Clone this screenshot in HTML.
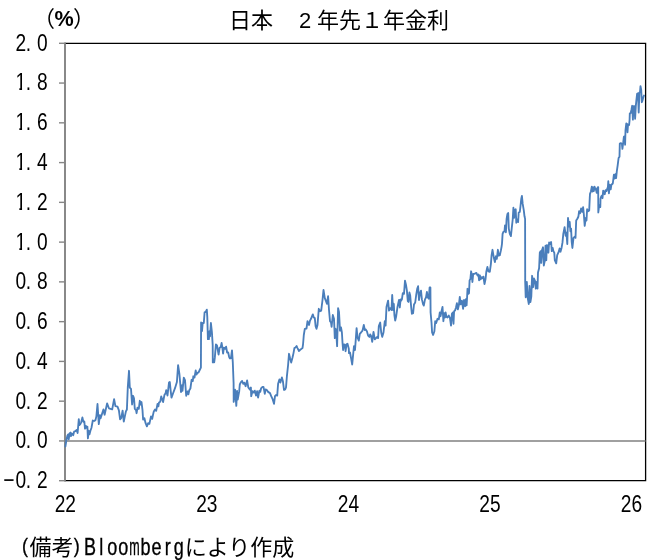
<!DOCTYPE html>
<html lang="ja">
<head>
<meta charset="utf-8">
<title>日本 2年先1年金利</title>
<style>
html,body{margin:0;padding:0;background:#fff;}
body{position:relative;width:651px;height:560px;overflow:hidden;font-family:"Liberation Sans",sans-serif;}
svg{display:block;position:absolute;left:0;top:0;will-change:transform;}
.num text{font-family:"Liberation Sans",sans-serif;font-size:20.6px;fill:#000;text-anchor:middle;}
.ax line{stroke:#868686;stroke-width:1.4;}
.ax .z{stroke:#808080;stroke-width:1.5;}
.ax .v{stroke:#7c7c7c;stroke-width:1.8;}
.fr{fill:none;stroke:#000;stroke-width:1.3;}
.ser{fill:none;stroke:#4a7ebb;stroke-width:1.85;stroke-linejoin:round;stroke-linecap:round;}
.jp{fill:#000;font-family:"Liberation Sans","Noto Sans CJK JP",sans-serif;}
</style>
</head>
<body>
<svg width="651" height="560" viewBox="0 0 651 560">
<rect width="651" height="560" fill="#fff"/>
<polyline class="fr" points="65.0,43.3 645.6,43.3 645.6,480.7 65.0,480.7"/>
<g class="ax">
<line class="z" x1="65.0" x2="645.6" y1="440.94" y2="440.94"/>
<line class="v" x1="65.0" x2="65.0" y1="42.6" y2="481.4"/>
<line x1="59" x2="65.0" y1="43.30" y2="43.30"/><line x1="59" x2="65.0" y1="83.06" y2="83.06"/><line x1="59" x2="65.0" y1="122.83" y2="122.83"/><line x1="59" x2="65.0" y1="162.59" y2="162.59"/><line x1="59" x2="65.0" y1="202.35" y2="202.35"/><line x1="59" x2="65.0" y1="242.12" y2="242.12"/><line x1="59" x2="65.0" y1="281.88" y2="281.88"/><line x1="59" x2="65.0" y1="321.65" y2="321.65"/><line x1="59" x2="65.0" y1="361.41" y2="361.41"/><line x1="59" x2="65.0" y1="401.17" y2="401.17"/><line x1="59" x2="65.0" y1="440.94" y2="440.94"/><line x1="59" x2="65.0" y1="480.70" y2="480.70"/>
</g>
<path class="ser" d="M65.4 446.5 L66.5 439.5 L67.4 435.7 L68.1 434.4 L68.7 439.3 L69.6 433.5 L70.5 432.6 L70.9 436.2 L71.8 433.5 L73.2 435.3 L74.1 431.7 L75.4 431.2 L76.7 429.9 L77.6 433 L78.8 419.2 L79.4 425 L80.3 424.1 L81.2 422.3 L82.4 417.4 L83.4 421.9 L84.3 421.4 L85 428.6 L85.9 425.9 L86.6 427.7 L87.4 426.8 L87.9 438.4 L88.8 430.8 L89.5 434.4 L90.4 430.8 L91.5 427.7 L92.8 420.5 L94.1 421 L95.5 420.1 L96.4 416.1 L97.5 404 L98.8 424.1 L99.9 415.2 L100.6 418.3 L103.5 409.4 L104.6 414.7 L107.1 403.4 L108.9 408.3 L112.2 409.4 L114.1 399.1 L115.4 406.1 L117.5 406.7 L118.9 410.3 L120.1 419.3 L121.2 418.2 L122.6 410.6 L123.8 421.6 L124.9 416.1 L125.9 411.4 L126.9 409.5 L127.8 387 L129 370.8 L129.8 387.6 L131 388.9 L132.1 404.5 L133.1 395.8 L134 398.2 L134.8 408.9 L136 410.1 L136.6 413.2 L137.5 407.6 L138.8 408.9 L139.8 400.8 L140.6 404.5 L141.5 402 L142.5 410.1 L143.1 419.5 L144.4 418.2 L145.6 423.2 L146.9 426.4 L148.1 423.2 L149.4 423.9 L151 416.4 L152.2 418.9 L152.8 415.8 L153.8 411.4 L155 409.5 L156.2 410.8 L157.5 403.9 L158.4 406.4 L159 402.6 L160.2 401.8 L161.2 396.4 L163.1 402 L164.4 395.1 L165.6 393.2 L166.2 390.1 L167.5 395.5 L169 382.6 L169.8 382 L170.6 390.1 L171.5 397.6 L173.1 393.2 L175 388.2 L176.9 382 L178.1 365.1 L179.4 373.9 L181 392 L182.1 385.1 L182.5 390.8 L183.8 377.6 L185 380.1 L186.2 395.8 L187.5 391.4 L188.4 394.3 L189.3 390.3 L190.4 388.5 L191.6 379.8 L192.8 381 L193.3 376.3 L194.5 377.5 L195.7 370.5 L196.5 374.6 L197.4 372.9 L198.6 372.3 L199.7 370 L200.9 367.6 L201.1 322.5 L202 331.1 L202.7 323 L203.8 323 L204.6 312.3 L205.7 311.8 L206.8 309.6 L207.3 317.1 L207.9 339.1 L208.9 339.1 L209.5 331.1 L210 336.4 L210.9 323 L211.9 332.1 L212.7 345 L212.8 362.4 L214.2 362.4 L214.8 357.9 L215.9 344.5 L217 345.5 L218.6 354.6 L219.6 347.7 L220.7 347.1 L221.6 342.9 L222.3 347.1 L223.1 353.6 L223.9 347.7 L225 348.8 L226.1 346.6 L227.1 352.5 L228.2 352.5 L229.1 356.8 L229.8 358.4 L230.9 358.4 L232 350.4 L232.8 362.4 L233.6 383.3 L233.7 401.9 L235.1 389.7 L236.3 405.9 L237.1 390.9 L237.7 399.6 L239.2 391.4 L239.8 384.5 L240.9 382.1 L242.1 381 L243.3 383.9 L244.4 382.7 L245.6 386.2 L247.1 380.4 L248.3 387.4 L250 389.7 L250.9 387.5 L251.2 396.2 L252.5 391.2 L253.8 392.5 L254.8 390.6 L256 395.6 L257.1 391.2 L258.1 397.5 L259.4 390.6 L260.2 391.9 L261.2 388.1 L262.5 386.9 L263.5 386.9 L264.8 393.8 L265.6 389.4 L266.9 390 L268.1 391.9 L270 393.1 L271.2 396.2 L272.5 398.8 L274 403.8 L275 396.2 L276 395 L277.2 395.6 L278.1 383.8 L279.4 379.4 L280.4 382.5 L281.9 377.5 L282.9 381.2 L284 390 L285.2 389.4 L286 387.5 L286.9 376.2 L288.1 365 L289 353.8 L290.2 358.8 L291.2 362.5 L292.5 357.5 L293.5 353.1 L294.4 348.1 L295.4 347.5 L296.6 346 L297.5 348.1 L299 351 L300.6 349.4 L302.5 348.1 L303.1 343.8 L303.8 335 L304.8 328.8 L306.5 328.5 L307.5 321.2 L309 325 L310 320.6 L311 318.8 L312.8 314.4 L313.8 317.5 L314.8 318.1 L315.6 326.2 L316.5 328.8 L317.5 325 L318.8 308.8 L320 311.2 L321.2 310.6 L322.5 300 L323.5 290 L324.8 298.1 L326 301.2 L326.9 303.8 L328.1 296.2 L329 310 L330 321.2 L331 322.5 L331.6 326.9 L332.8 315 L334 318.8 L334.8 338.1 L335.6 328.8 L336.2 331.9 L337.1 346.2 L338.1 308.1 L339 311.9 L340 330.6 L341 327.5 L341.9 332.5 L342.5 342.5 L343.1 350 L344 344.4 L345 345 L345.6 351.2 L346.5 344.4 L347.5 343.8 L348.8 348.8 L349 353.1 L350 352.5 L351.2 358.8 L352.2 364.5 L353.1 355 L354 346.2 L355 350 L356 336.2 L356.6 328.1 L357.5 337.5 L358.8 340.6 L359.8 333.8 L361 332.5 L362.5 330.6 L363.8 325 L364.8 330 L365.6 329.4 L366.9 331.2 L368.1 335.6 L369.4 336.9 L370.2 334.4 L371.2 336.2 L372.2 341.9 L373.5 331.9 L374.8 339.4 L376 338.1 L377.2 336.9 L378.1 338.1 L378.8 326.2 L380.2 322.5 L381.2 332.5 L382.2 336.9 L383.5 332.5 L384.8 321.2 L385.6 325.6 L386.5 306.9 L388.1 300.6 L389 310.6 L390.2 308.1 L391.5 310 L392.2 295 L393.1 310 L393.8 303.8 L394.4 315 L395.2 320.6 L396.2 316.2 L397.5 306.9 L399 300 L399.8 307.5 L400.6 299.4 L401.2 300.6 L401.9 299.4 L402.8 293.1 L404 293.8 L405 280.6 L406 285 L406.9 290.6 L407.8 301.2 L408.5 301.9 L409.4 292.5 L410.2 295.6 L411.2 307.5 L411.9 313.8 L413.1 313.1 L414 304.4 L415.2 302.5 L416.2 295 L417.2 288.8 L418.1 286.2 L419 300 L420 293.1 L421 290.6 L421.9 299.4 L423.1 304.4 L423.8 305.6 L425 299.4 L426 297.5 L426.9 291.9 L427.8 297.5 L428.8 298.8 L429.6 287.5 L430.4 287.5 L430.6 312.5 L431.5 322.5 L432.1 332.5 L433.1 335 L434.4 331.2 L435.2 321.2 L436.2 323.1 L437.5 318.8 L438.8 319.4 L439.8 312.5 L440.6 316.2 L441.5 311.2 L442.5 306.9 L443.4 321.2 L444.1 313.1 L445 317.5 L445.6 312.5 L446.5 316.9 L447.5 317.5 L448.8 315.6 L450 318.1 L451 325.6 L451.9 313.8 L452.8 312.5 L453.5 323.8 L454.1 311.2 L455 310.6 L456 307.5 L456.9 303.1 L457.8 309.4 L458.8 305.6 L459.8 296.9 L460.6 304.4 L461.9 300.6 L463.1 308.8 L464 300 L465.2 306.2 L465.9 299.1 L466.6 305.4 L467.1 297.3 L467.5 288.8 L468.4 293.8 L469 293.3 L469.6 280.4 L470.4 279 L471.1 271.3 L471.9 275.5 L472.4 282 L473.2 273.9 L474.3 273.9 L475.4 273.4 L476.4 272.9 L477.5 275.5 L478.4 274.5 L479.1 280.4 L479.9 275.5 L480.7 279.3 L481.8 277.1 L482.6 278.2 L483.4 276.6 L484.5 284.1 L485.5 279.3 L486.3 271.8 L487.4 267 L488.4 271.3 L489.8 271.8 L490.9 263.8 L491.6 255.2 L492.5 249.8 L493.4 255.2 L494.1 258.9 L494.9 262.1 L495.9 256.3 L496.8 258.9 L497.9 249.8 L498.7 255.7 L499.8 255.2 L500.9 250.4 L501.6 246.6 L502 243.6 L502.6 233.9 L503.4 231.8 L504.5 231.3 L505 225.4 L505.9 232.3 L506.6 218.9 L507.4 214.1 L508.2 213 L508.8 228.6 L509.8 233.9 L510.9 236.1 L512 225.9 L512.7 219.5 L513.4 207.7 L514.1 217.9 L514.9 209.8 L515.7 209.3 L516.3 222.7 L517.3 219.5 L518.1 222.1 L518.7 212.5 L519.8 212 L520.5 206.1 L521.3 198.6 L521.9 195.9 L522.7 203.9 L523.8 210.4 L524.5 216.3 L525.1 218.9 L525.2 281.9 L525.7 297.3 L526.8 281.9 L527.7 297.9 L528.8 304 L529.5 285.9 L530.4 302 L531.3 296.6 L532.1 275.8 L533.1 287.2 L534 278.5 L535.1 281.2 L535.8 288.6 L536.7 281.9 L537.5 288.6 L538 272.5 L539.1 268.2 L539.8 252.7 L540.6 251.1 L541.2 262.9 L542 250 L543 247.3 L543.8 265.5 L544.9 260.2 L545.5 245.7 L546.3 260.2 L546.8 245.2 L547.9 245.7 L548.4 252.7 L549.1 242.5 L550 244.1 L551.1 242 L551.8 251.1 L552.7 247.9 L553.4 251.1 L554.3 252.7 L554.8 260.2 L556.2 263.4 L557.2 255.1 L558.5 252.4 L559.6 248.4 L560.5 251.7 L561.6 247.7 L562.5 242.4 L563.3 233.9 L564.6 227.2 L565.7 235.9 L566.4 232.6 L567.3 244 L568 217.9 L569.1 226.6 L569.7 221.9 L570.4 231.2 L571.1 228.6 L571.7 242 L572.4 248 L573.5 237.9 L574.8 236.6 L575.5 237.9 L576.2 220.5 L577.5 218.5 L578.4 216.5 L579.1 211.2 L580.2 213.2 L581.1 208.5 L582.2 211.8 L583.1 207.1 L583.8 213.8 L584.7 225.9 L585.8 217.9 L586.5 220.5 L587.1 209.2 L588.2 211.2 L589.2 210.5 L589.8 197.1 L590 193.8 L590.9 191.5 L591.8 186.6 L592.5 191.5 L593.1 187.5 L593.8 191.1 L594.5 186.6 L595.2 189.3 L595.8 188.8 L596.7 192.9 L597.6 187.5 L598.2 187.1 L598.3 212.5 L599.2 205.1 L600.3 207.1 L600.5 198.7 L601.2 196.4 L602.1 195.5 L602.5 198.2 L603.2 190.6 L604.1 192 L604.7 194.2 L605.6 190.2 L606.5 191.1 L607.4 188.4 L607.9 187.1 L608.3 181.2 L608.9 193.3 L609.8 184.8 L610.7 189.3 L611.4 184.8 L612.8 183.5 L613.9 174.6 L614.6 178.6 L615.4 174.1 L616.1 178.1 L616.8 171.4 L617.7 165.2 L618.6 158 L619.5 156.7 L619.8 143.5 L620.8 143.1 L621.9 143.9 L622.4 148.8 L623.1 143.5 L623.9 136.7 L624.5 136.3 L625.1 144.7 L625.5 130.3 L626.3 123.4 L627.1 124.2 L627.5 132.3 L628 124.6 L629.1 125 L629.6 119.8 L629.8 113.4 L630.6 113.4 L631.5 109.4 L632.2 105.8 L632.9 119.6 L633.5 106.2 L634.4 106.2 L635.1 118.8 L635.8 106.2 L636.4 100 L637.1 93.8 L638 93.3 L638.7 112.5 L639.4 92.4 L640 92 L640.5 86.2 L641.2 89.7 L641.8 102.2 L642.4 100.9 L643.3 97.3 L644 95.5"/>
<g class="num" transform="scale(0.93,1.166)">
<text x="22.3 30.6 45.5" y="43.5">2.0</text><text x="22.3 30.6 45.5" y="77.6">1.8</text><text x="22.3 30.6 45.5" y="111.7">1.6</text><text x="22.3 30.6 45.5" y="145.8">1.4</text><text x="22.3 30.6 45.5" y="179.9">1.2</text><text x="22.3 30.6 45.5" y="214.0">1.0</text><text x="22.3 30.6 45.5" y="248.1">0.8</text><text x="22.3 30.6 45.5" y="282.2">0.6</text><text x="22.3 30.6 45.5" y="316.3">0.4</text><text x="22.3 30.6 45.5" y="350.4">0.2</text><text x="22.3 30.6 45.5" y="384.6">0.0</text><text x="9.4 22.3 30.6 45.5" y="418.7">−0.2</text>
<text x="64.5 75.9" y="438.9">22</text><text x="216.7 228.1" y="438.9">23</text><text x="369.0 380.4" y="438.9">24</text><text x="521.2 532.6" y="438.9">25</text><text x="673.3 684.7" y="438.9">26</text>
</g>
<g fill="#fff"><rect x="15.6" y="87.61" width="3.75" height="4"/><rect x="22.05" y="87.61" width="4" height="4"/><rect x="15.6" y="127.38" width="3.75" height="4"/><rect x="22.05" y="127.38" width="4" height="4"/><rect x="15.6" y="167.14" width="3.75" height="4"/><rect x="22.05" y="167.14" width="4" height="4"/><rect x="15.6" y="206.90" width="3.75" height="4"/><rect x="22.05" y="206.90" width="4" height="4"/><rect x="15.6" y="246.67" width="3.75" height="4"/><rect x="22.05" y="246.67" width="4" height="4"/></g>
<g id="unit">
<text class="jp" x="33" y="25.5" font-size="22">（</text>
<text x="64.1" y="25.75" font-family="Liberation Sans, sans-serif" font-size="21.6" font-weight="bold" text-anchor="middle" fill="#000">%</text>
<text class="jp" x="73" y="25.5" font-size="22">）</text>
</g>
<g id="title">
<text class="jp" x="229" y="28" font-size="22">日本</text>
<text x="305.1" y="27.9" font-family="Liberation Sans, sans-serif" font-size="22" text-anchor="middle" fill="#000">2</text>
<text class="jp" x="317" y="28" font-size="22">年先１年金利</text>
</g>
<g id="note">
<text transform="scale(0.9,1.03)" x="27.71" y="536.80" font-family="Liberation Sans, sans-serif" font-size="20.0" text-anchor="middle" fill="#000" stroke="#000" stroke-width="0.3">(</text>
<text class="jp" x="29.6" y="554.6" font-size="22">備考</text>
<text transform="scale(0.9,1.03)" x="85.38" y="536.80" font-family="Liberation Sans, sans-serif" font-size="20.0" text-anchor="middle" fill="#000" stroke="#000" stroke-width="0.3">)</text>
<text transform="scale(0.9,1.2)" x="100.13 112.44 124.76 137.07 149.38 161.69 174.00 186.31 198.62" y="462.42" font-family="Liberation Sans, sans-serif" font-size="20.0" text-anchor="middle" fill="#000" stroke="#000" stroke-width="0.3">Bloo<tspan textLength="11.6" lengthAdjust="spacingAndGlyphs">m</tspan>berg</text>
<text class="jp" x="184.7" y="554.6" font-size="22">により作成</text>
</g>
</svg>
</body>
</html>
